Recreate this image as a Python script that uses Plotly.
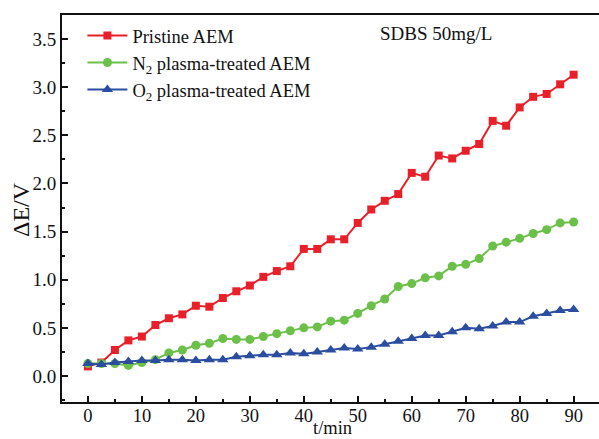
import plotly.graph_objects as go

t = [0, 2.5, 5, 7.5, 10, 12.5, 15, 17.5, 20, 22.5, 25, 27.5, 30, 32.5, 35, 37.5,
     40, 42.5, 45, 47.5, 50, 52.5, 55, 57.5, 60, 62.5, 65, 67.5, 70, 72.5, 75,
     77.5, 80, 82.5, 85, 87.5, 90]

pristine = [0.10, 0.14, 0.27, 0.37, 0.41, 0.53, 0.60, 0.64, 0.73, 0.72, 0.81, 0.88,
            0.94, 1.03, 1.09, 1.14, 1.32, 1.32, 1.42, 1.42, 1.59, 1.73, 1.82, 1.89,
            2.11, 2.07, 2.29, 2.26, 2.34, 2.41, 2.65, 2.60, 2.79, 2.90, 2.93, 3.03, 3.13]

n2 = [0.13, 0.13, 0.13, 0.11, 0.14, 0.17, 0.24, 0.27, 0.32, 0.34, 0.39, 0.38,
      0.38, 0.41, 0.44, 0.47, 0.50, 0.51, 0.57, 0.58, 0.65, 0.73, 0.80, 0.93,
      0.96, 1.02, 1.04, 1.14, 1.16, 1.22, 1.35, 1.39, 1.43, 1.48, 1.52, 1.59, 1.60]

o2 = [0.13, 0.12, 0.14, 0.15, 0.16, 0.16, 0.17, 0.17, 0.16, 0.17, 0.17, 0.20,
      0.21, 0.22, 0.22, 0.24, 0.23, 0.25, 0.27, 0.29, 0.28, 0.30, 0.33, 0.36,
      0.39, 0.42, 0.42, 0.46, 0.50, 0.49, 0.52, 0.56, 0.56, 0.62, 0.65, 0.68, 0.69]

names = ["Pristine AEM", "N<sub>2</sub> plasma-treated AEM", "O<sub>2</sub> plasma-treated AEM"]
colors = ["#E8202A", "#6CC04A", "#2B4DA0"]
symbols = ["square", "circle", "triangle-up"]
sizes = [8, 9, 10]

FONT = "Liberation Serif, Times New Roman, serif"

fig = go.Figure()
for y, nm, c, s, sz in zip([pristine, n2, o2], names, colors, symbols, sizes):
    fig.add_trace(go.Scatter(
        x=t, y=y, name=nm, mode="lines+markers",
        line=dict(color=c, width=2),
        marker=dict(color=c, symbol=s, size=sz),
    ))

fig.update_layout(
    width=599, height=439,
    margin=dict(l=62, r=0, t=15, b=37),
    paper_bgcolor="white", plot_bgcolor="white",
    font=dict(family=FONT, size=18, color="#111"),
    showlegend=True,
    legend=dict(x=0.038, y=0.995, xanchor="left", yanchor="top",
                bgcolor="rgba(0,0,0,0)", font=dict(family=FONT, size=18.5),
                tracegroupgap=0, itemwidth=40),
    annotations=[
        dict(text="SDBS 50mg/L", x=64.5, y=3.56, xref="x", yref="y",
             showarrow=False, font=dict(family=FONT, size=19)),
        dict(text="t/min", x=(332 - 62) / 537, y=-(439 - 402) / 387,
             xref="paper", yref="paper", xanchor="center", yanchor="bottom",
             borderpad=0, showarrow=False, font=dict(family=FONT, size=18.5)),
        dict(text="ΔE/V", x=-(62 - 21) / 537, y=(402 - 210) / 387,
             xref="paper", yref="paper", xanchor="center", yanchor="middle",
             textangle=-90, showarrow=False, font=dict(family=FONT, size=24)),
    ],
)

fig.update_xaxes(
    range=[-4.8, 94.7], tickvals=list(range(0, 91, 10)),
    ticks="inside", ticklen=6, tickwidth=1.5, tickcolor="#111",
    minor=dict(ticks="inside", ticklen=3, tickwidth=1.5, tickcolor="#111", dtick=5, tick0=0),
    showline=True, linecolor="#111", linewidth=2, mirror=True,
    showgrid=False, zeroline=False, automargin=False,
    ticklabelstandoff=-4,
    tickfont=dict(family=FONT, size=18.5),
)
fig.update_yaxes(
    range=[-0.27, 3.75], tickvals=[0, 0.5, 1.0, 1.5, 2.0, 2.5, 3.0, 3.5],
    tickformat=".1f",
    ticks="inside", ticklen=6, tickwidth=1.5, tickcolor="#111",
    minor=dict(ticks="inside", ticklen=3, tickwidth=1.5, tickcolor="#111", dtick=0.25, tick0=0),
    showline=True, linecolor="#111", linewidth=2, mirror=False,
    showgrid=False, zeroline=False, automargin=False,
    tickfont=dict(family=FONT, size=19),
)

fig.write_html("out.html")
